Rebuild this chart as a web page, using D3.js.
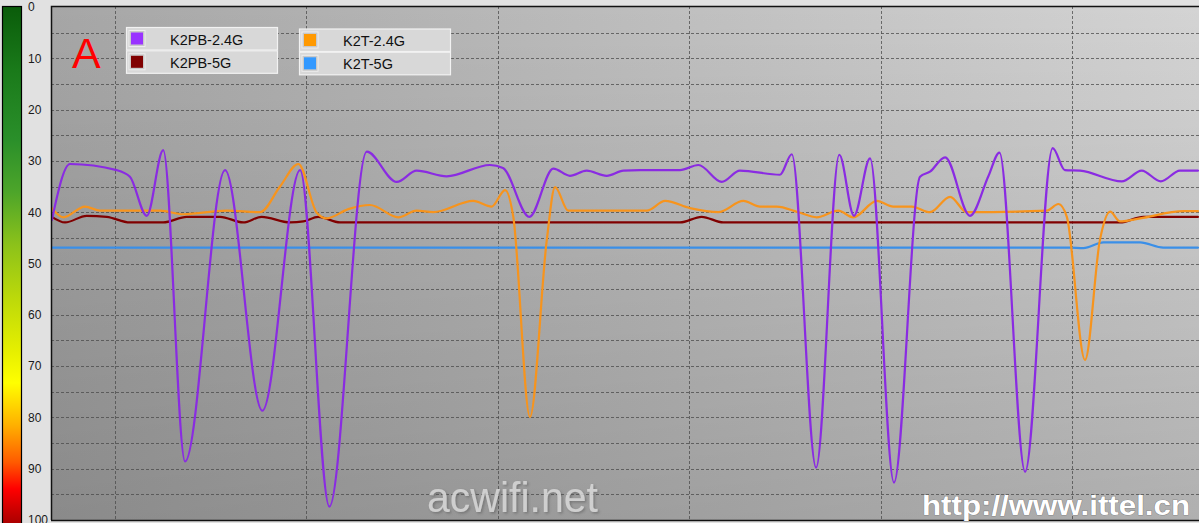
<!DOCTYPE html>
<html>
<head>
<meta charset="utf-8">
<script src="https://cdn.jsdelivr.net/npm/d3@7/dist/d3.min.js"></script>
<style>
  html, body { margin: 0; padding: 0; background: #e1e1e1; overflow: hidden; }
  svg { display: block; }
</style>
</head>
<body>
<svg id="chart" width="1199" height="523"></svg>
<script>
// ---- Data (x = time units, y = signal value 0..100, smaller is better) ----
const seriesNames = ["K2PB-2.4G", "K2PB-5G", "K2T-2.4G", "K2T-5G"];
const seriesColors = ["#8a2be2", "#800000", "#f7941d", "#3a8fe8"];
const legendSwatchColors = ["#9933ff", "#800000", "#ff9900", "#3399ff"];
const yTicks = [0, 10, 20, 30, 40, 50, 60, 70, 80, 90, 100];
const xGridValues = [100, 200, 300, 400, 500, 600];
const yGridValues = [5, 10, 15, 20, 25, 30, 35, 40, 45, 50, 55, 60, 65, 70, 75, 80, 85, 90, 95];

const k2pb24 = [[67,41.5],[76.5,30.6],[100.9,31.8],[107.8,33.1],[116.6,40.7],[125.2,27.9],[136.6,88.6],[157.5,31.8],[177,78.7],[196.7,31.8],[212,97.4],[231.5,28.2],[247.2,34.1],[257.6,31.9],[273.3,33],[295.9,30.8],[302.7,31.4],[316.5,40.9],[329,31.5],[337.7,32.9],[346.4,31.9],[356.9,32.9],[365.6,31.9],[374.3,31.8],[395.2,31.8],[404.8,30.8],[417,34.1],[426.5,31.9],[447.4,32.7],[453.6,28.7],[466.3,89.8],[478.4,28.8],[486.1,40.7],[494.5,29.5],[507,92.7],[520.6,33.1],[525.8,32.1],[533.7,29.3],[546.7,40.7],[556.3,33],[562.1,28.4],[575.5,90.6],[589.9,27.5],[596.3,31.8],[604.2,31.9],[626,34],[636.4,31.9],[646.4,34],[656.4,31.9],[665.8,31.9]];

const k2pb5 = [[67,40.9],[73.9,42],[85.2,40.7],[95.7,40.9],[107.8,42],[125.2,42],[137.5,40.9],[154.9,40.9],[167,42],[176.6,40.9],[191.4,42],[198.4,41.8],[206.2,40.9],[217.6,42],[395.2,42],[406.5,40.9],[417.8,42],[625.1,42],[637.3,40.9],[665.8,40.9]];

const k2t24 = [[67,39.2],[73,41],[84.3,38.9],[92.2,39.7],[109.6,39.7],[123.5,39.7],[135.7,40.4],[158.4,39.7],[175.8,40],[186.2,35],[195.8,30.6],[205.4,40.1],[210.6,41.2],[221.9,39.4],[233.2,38.6],[248,41],[257.6,39.7],[266.3,40],[287.2,37.8],[296.8,38.9],[303.8,35.7],[308.1,40.9],[316.8,79.9],[325.6,45.4],[329.9,35.1],[336.8,39.7],[377.8,39.7],[387.4,37.8],[400.4,39.2],[415.2,40],[428.3,37.8],[437,38.9],[445.7,38.9],[457,40],[466.6,41],[477.9,39.7],[485.7,41],[498,37.8],[506.6,38.9],[516.3,38.9],[525.8,40],[536.3,37],[545,40],[586.8,39.7],[592.9,38.4],[597.3,40.9],[606.8,68.8],[614.6,45.4],[619.9,39.9],[625.1,41.8],[635.6,41.2],[658.3,39.8],[665.8,39.8]];

const k2t5 = [[67,46.9],[300,46.9],[599,46.9],[605.9,47],[616.4,45.9],[635.6,45.9],[647.7,46.9],[665.8,46.9]];

const seriesData = [k2pb24, k2pb5, k2t24, k2t5];
const drawOrder = [3, 1, 2, 0]; // blue, dark red, orange, purple on top

// ---- Layout ----
const W = 1199, H = 523;
const plot = { left: 51, right: 1199, top: 6, bottom: 520 };

const svg = d3.select("#chart");
const defs = svg.append("defs");

// background gradients
const gH = defs.append("linearGradient").attr("id", "bgH").attr("x1", 0).attr("x2", 1).attr("y1", 0).attr("y2", 0);
gH.append("stop").attr("offset", 0).attr("stop-color", "#a6a6a6");
gH.append("stop").attr("offset", 1).attr("stop-color", "#d4d4d4");
const gV = defs.append("linearGradient").attr("id", "bgV").attr("x1", 0).attr("x2", 0).attr("y1", 0).attr("y2", 1);
gV.append("stop").attr("offset", 0).attr("stop-color", "#000").attr("stop-opacity", 0);
gV.append("stop").attr("offset", 1).attr("stop-color", "#000").attr("stop-opacity", 0.17);

// colour bar gradient
const gC = defs.append("linearGradient").attr("id", "cbar").attr("x1", 0).attr("x2", 0).attr("y1", 0).attr("y2", 1);
[[0, "#0a5c0a"], [0.12, "#1a7a1a"], [0.25, "#2a8f2a"], [0.35, "#4da52a"], [0.45, "#8cc21a"], [0.55, "#bcd90a"],
 [0.65, "#e6ef00"], [0.71, "#ffff00"], [0.79, "#ffb000"], [0.86, "#ff5a00"], [0.91, "#ff0000"], [1, "#8a0000"]]
  .forEach(([o, c]) => gC.append("stop").attr("offset", o).attr("stop-color", c));

// soft shadow for the watermark
const f = defs.append("filter").attr("id", "wmShadow").attr("x", "-5%").attr("y", "-20%").attr("width", "115%").attr("height", "150%");
f.append("feDropShadow").attr("dx", 1.5).attr("dy", 1.5).attr("stdDeviation", 1.2).attr("flood-color", "#555").attr("flood-opacity", 0.6);

// clip
defs.append("clipPath").attr("id", "plotClip").append("rect")
  .attr("x", plot.left).attr("y", plot.top).attr("width", plot.right - plot.left).attr("height", plot.bottom - plot.top);

// scales
const x = d3.scaleLinear().domain([66.56, 666.35]).range([plot.left, plot.right]);
const y = d3.scaleLinear().domain([0, 100]).range([7, 520]);

// outer background
svg.append("rect").attr("x", 0).attr("y", 0).attr("width", W).attr("height", H).attr("fill", "#e1e1e1");

// colour bar
svg.append("rect").attr("x", 2.5).attr("y", 6.5).attr("width", 19).attr("height", 530)
  .attr("fill", "url(#cbar)").attr("stroke", "#000").attr("stroke-width", 1.2);

// y axis labels
const yAxis = d3.axisRight(y).tickValues(yTicks).tickSize(0).tickPadding(4).tickFormat(d3.format("d"));
const gy = svg.append("g").attr("transform", "translate(24,0)").call(yAxis);
gy.select(".domain").remove();
gy.selectAll("text").attr("font-family", "Liberation Sans, Arial, sans-serif").attr("font-size", 12).attr("fill", "#1a1a1a");

// plot background
svg.append("rect").attr("x", plot.left).attr("y", plot.top).attr("width", plot.right - plot.left).attr("height", plot.bottom - plot.top).attr("fill", "url(#bgH)");
svg.append("rect").attr("x", plot.left).attr("y", plot.top).attr("width", plot.right - plot.left).attr("height", plot.bottom - plot.top).attr("fill", "url(#bgV)");

// grid
const grid = svg.append("g").attr("clip-path", "url(#plotClip)");
grid.selectAll("line.h").data(yGridValues).join("line").attr("class", "h")
  .attr("x1", plot.left).attr("x2", plot.right).attr("y1", d => Math.round(y(d)) + 0.5).attr("y2", d => Math.round(y(d)) + 0.5)
  .attr("stroke", "#4a4a4a").attr("stroke-width", 1).attr("stroke-dasharray", "3,2").attr("opacity", 0.75);
grid.selectAll("line.v").data(xGridValues).join("line").attr("class", "v")
  .attr("y1", plot.top).attr("y2", plot.bottom).attr("x1", d => Math.round(x(d)) + 0.5).attr("x2", d => Math.round(x(d)) + 0.5)
  .attr("stroke", "#4a4a4a").attr("stroke-width", 1).attr("stroke-dasharray", "3,2").attr("opacity", 0.75);

// watermark (under lines)
svg.append("text").attr("x", 427).attr("y", 512).text("acwifi.net")
  .attr("font-family", "Liberation Sans Narrow, Liberation Sans, Arial, sans-serif").attr("font-size", 42)
  .attr("textLength", 171).attr("lengthAdjust", "spacingAndGlyphs")
  .attr("fill", "#d9d9d9").attr("opacity", 0.85).attr("filter", "url(#wmShadow)");

// lines
const line = d3.line().x(d => x(d[0])).y(d => y(d[1])).curve(d3.curveMonotoneX);
const lines = svg.append("g").attr("clip-path", "url(#plotClip)");
drawOrder.forEach(i => {
  lines.append("path").datum(seriesData[i]).attr("d", line)
    .attr("fill", "none").attr("stroke", seriesColors[i]).attr("stroke-width", 2.2)
    .attr("stroke-linejoin", "round").attr("stroke-linecap", "round");
});

// plot border (left, top, bottom)
svg.append("path").attr("d", `M${plot.left + 0.5},${plot.bottom}V${plot.top + 0.5}H${plot.right}`)
  .attr("fill", "none").attr("stroke", "#111").attr("stroke-width", 1.5);
svg.append("line").attr("x1", plot.left).attr("x2", plot.right).attr("y1", plot.bottom + 0.5).attr("y2", plot.bottom + 0.5)
  .attr("stroke", "#111").attr("stroke-width", 1.5);

// big "A"
svg.append("text").attr("x", 72).attr("y", 68).text("A")
  .attr("font-family", "Liberation Sans, Arial, sans-serif").attr("font-size", 43).attr("fill", "#ff0000");

// legend
const legendBoxes = [
  { x: 126, y: 27, items: [0, 1] },
  { x: 299, y: 28.5, items: [2, 3] }
];
legendBoxes.forEach(b => {
  const g = svg.append("g").attr("transform", `translate(${b.x},${b.y})`);
  b.items.forEach((si, r) => {
    const gy0 = r * 23.3;
    g.append("rect").attr("x", 0.5).attr("y", gy0 + 0.5).attr("width", 151).attr("height", 22.5)
      .attr("fill", "#d8d8d8").attr("stroke", "#f2f2f2").attr("stroke-width", 1.2);
    g.append("rect").attr("x", 3).attr("y", gy0 + 3.5).attr("width", 16).attr("height", 16)
      .attr("fill", "#c8c8c8").attr("stroke", "#eeeeee").attr("stroke-width", 1);
    g.append("rect").attr("x", 5).attr("y", gy0 + 5.5).attr("width", 12).attr("height", 12)
      .attr("fill", legendSwatchColors[si]);
    g.append("text").attr("x", 44).attr("y", gy0 + 17.5).text(seriesNames[si])
      .attr("font-family", "Liberation Sans, Arial, sans-serif").attr("font-size", 14.5).attr("fill", "#111");
  });
});

// bottom-right watermark
svg.append("text").attr("x", 922).attr("y", 515).text("http://www.ittel.cn")
  .attr("font-family", "Liberation Sans, Arial, sans-serif").attr("font-weight", "bold").attr("font-size", 27)
  .attr("textLength", 268).attr("lengthAdjust", "spacingAndGlyphs")
  .attr("fill", "#ffffff").attr("stroke", "#6a6a6a").attr("stroke-width", 0.6).attr("paint-order", "stroke");
</script>
</body>
</html>
